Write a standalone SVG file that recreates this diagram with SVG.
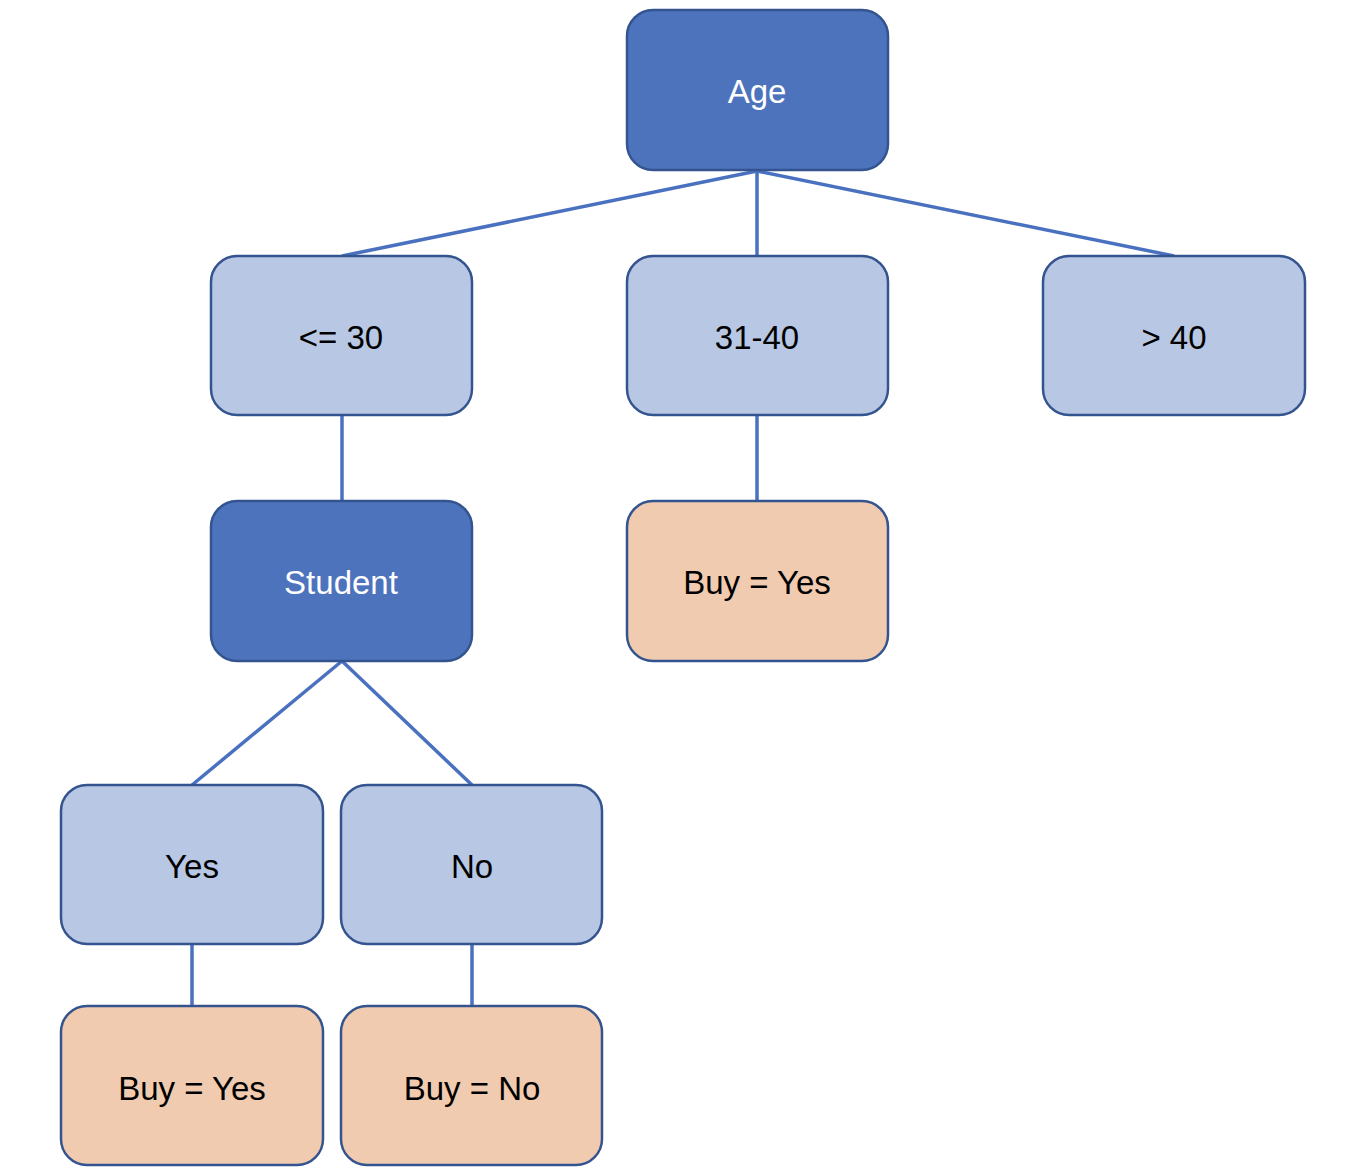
<svg xmlns="http://www.w3.org/2000/svg" width="1354" height="1176" viewBox="0 0 1354 1176">
<style>
.box{stroke:#34548F;stroke-width:2.5}
.dark{fill:#4D73BD}
.light{fill:#B7C7E4}
.leaf{fill:#F1CBAF}
.t{font-family:"Liberation Sans",Arial,sans-serif;font-size:33px;text-anchor:middle}
.tw{fill:#FFFFFF}
.tb{fill:#000000}
.edge{stroke:#4A71C0;stroke-width:3.5;fill:none}
</style>
<rect width="1354" height="1176" fill="#FFFFFF"/>
<g id="connectors">
<line class="edge" x1="757" y1="171" x2="342" y2="256"/>
<line class="edge" x1="757" y1="171" x2="757" y2="256"/>
<line class="edge" x1="757" y1="171" x2="1174" y2="256"/>
<line class="edge" x1="342" y1="415" x2="342" y2="501"/>
<line class="edge" x1="757" y1="415" x2="757" y2="501"/>
<line class="edge" x1="342" y1="661" x2="192" y2="785"/>
<line class="edge" x1="342" y1="661" x2="472" y2="785"/>
<line class="edge" x1="192" y1="944" x2="192" y2="1006"/>
<line class="edge" x1="472" y1="944" x2="472" y2="1006"/>
</g>
<g id="age">
<rect class="box dark" x="627" y="10" width="261" height="160" rx="26"/>
<text class="t tw" x="757" y="103">Age</text>
</g>
<g id="le30">
<rect class="box light" x="211" y="256" width="261" height="159" rx="26"/>
<text class="t tb" x="341" y="349">&lt;= 30</text>
</g>
<g id="r3140">
<rect class="box light" x="627" y="256" width="261" height="159" rx="26"/>
<text class="t tb" x="757" y="349">31-40</text>
</g>
<g id="gt40">
<rect class="box light" x="1043" y="256" width="262" height="159" rx="26"/>
<text class="t tb" x="1174" y="349">&gt; 40</text>
</g>
<g id="student">
<rect class="box dark" x="211" y="501" width="261" height="160" rx="26"/>
<text class="t tw" x="341" y="594">Student</text>
</g>
<g id="buyyes1">
<rect class="box leaf" x="627" y="501" width="261" height="160" rx="26"/>
<text class="t tb" x="757" y="594">Buy = Yes</text>
</g>
<g id="yes">
<rect class="box light" x="61" y="785" width="262" height="159" rx="26"/>
<text class="t tb" x="192" y="878">Yes</text>
</g>
<g id="no">
<rect class="box light" x="341" y="785" width="261" height="159" rx="26"/>
<text class="t tb" x="472" y="878">No</text>
</g>
<g id="buyyes2">
<rect class="box leaf" x="61" y="1006" width="262" height="159" rx="26"/>
<text class="t tb" x="192" y="1100">Buy = Yes</text>
</g>
<g id="buyno">
<rect class="box leaf" x="341" y="1006" width="261" height="159" rx="26"/>
<text class="t tb" x="472" y="1100">Buy = No</text>
</g>
</svg>
